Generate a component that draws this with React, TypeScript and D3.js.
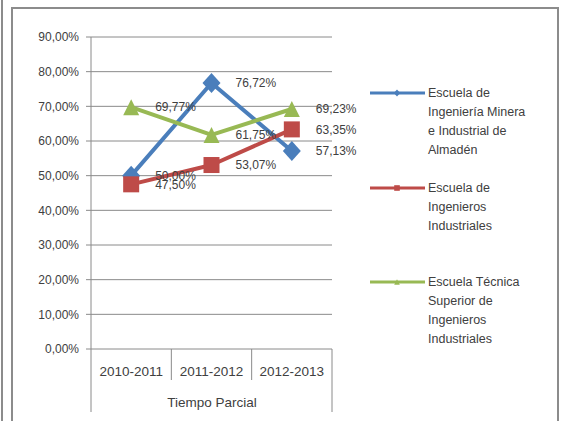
import React from "react";
import * as d3 from "d3";

// datos
const categorias = ["2010-2011", "2011-2012", "2012-2013"];
const minera = [0.5, 0.7672, 0.5713];
const industriales = [0.475, 0.5307, 0.6335];
const tecnica = [0.6977, 0.6175, 0.6923];
const yTicks = [0, 0.1, 0.2, 0.3, 0.4, 0.5, 0.6, 0.7, 0.8, 0.9];

const series = [
  {
    name: ["Escuela de", "Ingeniería Minera", "e Industrial de", "Almadén"],
    values: minera,
    color: "#4a7ebb",
    marker: "diamond",
  },
  {
    name: ["Escuela de", "Ingenieros", "Industriales"],
    values: industriales,
    color: "#be4b48",
    marker: "square",
  },
  {
    name: ["Escuela Técnica", "Superior de", "Ingenieros", "Industriales"],
    values: tecnica,
    color: "#98b954",
    marker: "triangle",
  },
];

const fmt = (v: number) => (v * 100).toFixed(2).replace(".", ",") + "%";
const FONT = "'Liberation Sans', Arial, sans-serif";

const Marker: React.FC<{ kind: string; x: number; y: number; color: string; s?: number }> = ({
  kind, x, y, color, s = 1,
}) => {
  if (kind === "diamond") {
    const w = 9 * s, h = 10 * s;
    return <path d={`M${x},${y - h}L${x + w},${y}L${x},${y + h}L${x - w},${y}Z`} fill={color} />;
  }
  if (kind === "square") {
    const a = 8 * s;
    return <rect x={x - a} y={y - a} width={2 * a} height={2 * a} fill={color} />;
  }
  const w = 8 * s, h = 8 * s;
  return <path d={`M${x},${y - h}L${x + w},${y + h}L${x - w},${y + h}Z`} fill={color} />;
};

export default function App() {
  const x = d3.scaleBand<string>().domain(categorias).range([91, 332]).padding(0);
  const y = d3.scaleLinear().domain([0, 0.9]).range([349, 37]);
  const cx = (c: string) => (x(c) ?? 0) + x.bandwidth() / 2;

  const line = d3
    .line<number>()
    .x((_, i) => cx(categorias[i]))
    .y((d) => y(d));

  const legendY = [93, 188, 282];

  return (
    <svg
      width={563}
      height={421}
      style={{ position: "absolute", left: 0, top: 0, background: "#fff" }}
      fontFamily={FONT}
    >
      {/* bordes */}
      <line x1={2} y1={0} x2={2} y2={421} stroke="#8c8c8c" strokeWidth={2} />
      <rect x={12} y={8} width={546} height={430} fill="none" stroke="#8c8c8c" strokeWidth={2} />

      {/* rejilla */}
      {yTicks.map((t) => (
        <g key={t}>
          <line x1={86} x2={332} y1={y(t)} y2={y(t)} stroke="#8a8a8a" strokeWidth={1} />
          <text x={79} y={y(t)} dy="0.35em" textAnchor="end" fontSize={12} fill="#404040">
            {fmt(t)}
          </text>
        </g>
      ))}
      <line x1={91} x2={91} y1={37} y2={412} stroke="#8a8a8a" />
      <line x1={332} x2={332} y1={349} y2={412} stroke="#8a8a8a" />
      {categorias.slice(1).map((c) => (
        <line key={c} x1={x(c)} x2={x(c)} y1={349} y2={380} stroke="#8a8a8a" />
      ))}
      {categorias.map((c) => (
        <text key={c} x={cx(c)} y={371} dy="0.35em" textAnchor="middle" fontSize={13.5} fill="#404040">
          {c}
        </text>
      ))}
      <text x={212} y={402} dy="0.35em" textAnchor="middle" fontSize={13.5} fill="#404040">
        Tiempo Parcial
      </text>

      {/* series */}
      {series.map((s) => (
        <g key={s.color}>
          <path d={line(s.values) ?? ""} fill="none" stroke={s.color} strokeWidth={4} strokeLinejoin="round" />
          {s.values.map((v, i) => (
            <Marker key={i} kind={s.marker} x={cx(categorias[i])} y={y(v)} color={s.color} />
          ))}
        </g>
      ))}
      {series.map((s) =>
        s.values.map((v, i) => (
          <text
            key={s.color + i}
            x={cx(categorias[i]) + 24}
            y={y(v)}
            dy="0.35em"
            fontSize={12}
            fill="#404040"
          >
            {fmt(v)}
          </text>
        ))
      )}

      {/* leyenda */}
      {series.map((s, k) => (
        <g key={"lg" + k}>
          <line x1={370} x2={425} y1={legendY[k]} y2={legendY[k]} stroke={s.color} strokeWidth={3} />
          <Marker kind={s.marker} x={397} y={legendY[k]} color={s.color} s={0.35} />
          {s.name.map((t, j) => (
            <text key={j} x={428} y={legendY[k] + j * 19} dy="0.35em" fontSize={12.5} fill="#404040">
              {t}
            </text>
          ))}
        </g>
      ))}
    </svg>
  );
}
